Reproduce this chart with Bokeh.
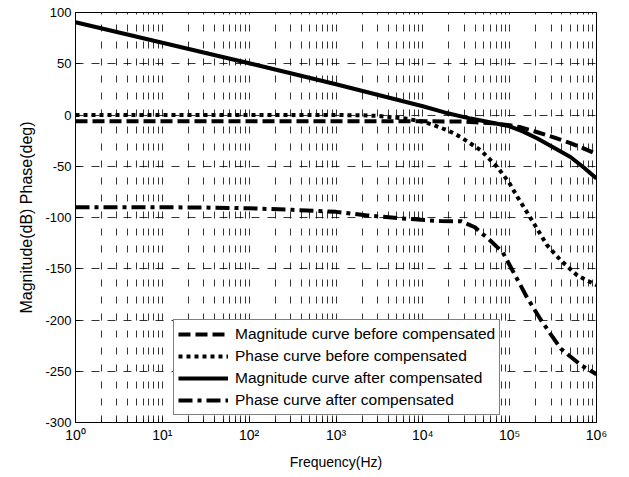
from bokeh.plotting import figure
from bokeh.models import (Legend, LegendItem, FixedTicker, Range1d)
from bokeh.embed import file_html
from bokeh.resources import INLINE

# ---------------- data ----------------
f_mag_before = [1, 10, 100, 1000, 10000, 31623, 63096, 100000, 134896, 208930,
                316228, 501187, 707946, 1000000]
mag_before = [-6, -6, -6, -6, -6, -6.5, -8, -10, -12, -16.8, -21.5, -27.5, -32.5, -38]

f_phase_before = [1, 10, 100, 1000, 1995, 3162, 6310, 10000, 13490, 19953, 27542,
                  46774, 72444, 97724, 123027, 158489, 190546, 269153, 389045,
                  602560, 1000000]
phase_before = [0, 0, 0, 0, -0.3, -1, -3.5, -6.5, -10, -15.5, -21.7, -34.6, -51,
                -65.5, -80, -95, -106, -127, -142, -156.6, -166]

f_mag_after = [1, 10, 100, 1000, 10000, 17783, 35481, 63096, 100000, 141254,
               208930, 316228, 501187, 707946, 1000000]
mag_after = [90.5, 70.5, 50.5, 30, 8.5, 2.5, -3.5, -7.5, -11, -16, -23, -31.5,
             -41, -51, -62]

f_phase_after = [1, 10, 31.6, 100, 316, 1000, 2291, 6607, 15849, 27542, 39811,
                 46774, 54954, 83176, 102329, 158489, 229087, 309030, 389045,
                 660693, 1000000]
phase_after = [-90, -90, -90.3, -91, -92.5, -94.5, -98, -101.3, -103.5, -103.6,
               -109.5, -115, -119.5, -134, -148, -178, -200, -216, -228, -244, -253]

legend_labels = ["Magnitude curve before compensated",
                 "Phase curve before compensated",
                 "Magnitude curve after compensated",
                 "Phase curve after compensated"]

x_ticks = [1, 10, 100, 1000, 10000, 100000, 1000000]
x_tick_labels = ["10\u2070", "10\u00b9", "10\u00b2", "10\u00b3", "10\u2074", "10\u2075", "10\u2076"]
y_ticks = [-300, -250, -200, -150, -100, -50, 0, 50, 100]
y_tick_labels = ["-300", "-250", "-200", "-150", "-100", "-50", "0", "50", "100"]

FONT = "Liberation Sans"

# ---------------- figure ----------------
p = figure(width=621, height=472, x_axis_type="log",
           x_range=Range1d(1, 1e6), y_range=Range1d(-300, 100),
           output_backend="svg", toolbar_location=None,
           min_border_left=75, min_border_right=25,
           min_border_top=12, min_border_bottom=50)
p.background_fill_color = "white"
p.border_fill_color = "white"
p.outline_line_color = "black"
p.outline_line_width = 1

minor = [m * d for d in x_ticks[:-1] for m in range(2, 10)]
xticker = FixedTicker(ticks=x_ticks, minor_ticks=minor)
yticker = FixedTicker(ticks=y_ticks)

p.xaxis.ticker = xticker
p.yaxis.ticker = yticker
p.xgrid.ticker = xticker
p.ygrid.ticker = yticker

p.xaxis.major_label_overrides = {t: s for t, s in zip(x_ticks, x_tick_labels)}
p.yaxis.major_label_overrides = {t: s for t, s in zip(y_ticks, y_tick_labels)}

for ax in (p.xaxis, p.yaxis):
    ax.axis_line_color = "black"
    ax.major_tick_line_color = "black"
    ax.major_tick_in = 5
    ax.major_tick_out = 0
    ax.minor_tick_in = 3
    ax.minor_tick_out = 0
    ax.major_label_text_font = FONT
    ax.major_label_text_color = "black"
    ax.axis_label_text_font = FONT
    ax.axis_label_text_font_style = "normal"
    ax.axis_label_text_color = "black"

p.xaxis.axis_label_text_font_size = "14px"
p.yaxis.axis_label_text_font_size = "16px"
p.xaxis.major_label_text_font_size = "14px"
p.yaxis.major_label_text_font_size = "13px"
p.yaxis.minor_tick_line_color = None
p.xaxis.minor_tick_line_color = "black"
p.xaxis.major_label_standoff = 4
p.yaxis.major_label_standoff = 4
p.xaxis.axis_label = "Frequency(Hz)"
p.yaxis.axis_label = "Magnitude(dB) Phase(deg)"
p.xaxis.axis_label_standoff = 8
p.yaxis.axis_label_standoff = 7

# grid
p.xgrid.grid_line_color = "black"
p.xgrid.grid_line_dash = "7 10"
p.xgrid.grid_line_width = 0.8
p.xgrid.minor_grid_line_color = "black"
p.xgrid.minor_grid_line_dash = "7 10"
p.xgrid.minor_grid_line_width = 0.8
p.ygrid.grid_line_color = "black"
p.ygrid.grid_line_dash = "8 8"
p.ygrid.grid_line_width = 0.8

# curves
r1 = p.line(f_mag_before, mag_before, line_color="black", line_width=4, line_dash="12 5")
r2 = p.line(f_phase_before, phase_before, line_color="black", line_width=4, line_dash="4 4")
r3 = p.line(f_mag_after, mag_after, line_color="black", line_width=4)
r4 = p.line(f_phase_after, phase_after, line_color="black", line_width=4, line_dash="14 5 4 5")

legend = Legend(items=[LegendItem(label=legend_labels[0], renderers=[r1]),
                       LegendItem(label=legend_labels[1], renderers=[r2]),
                       LegendItem(label=legend_labels[2], renderers=[r3]),
                       LegendItem(label=legend_labels[3], renderers=[r4])],
                location=(98, 7), margin=0, padding=4, spacing=2,
                glyph_width=50, glyph_height=20, label_height=20,
                label_standoff=7,
                label_text_font=FONT, label_text_font_size="15.5px",
                label_text_color="black",
                border_line_color="black", border_line_width=1,
                background_fill_color="white", background_fill_alpha=1)
p.add_layout(legend)

open("out.html", "w").write(file_html(p, INLINE))
